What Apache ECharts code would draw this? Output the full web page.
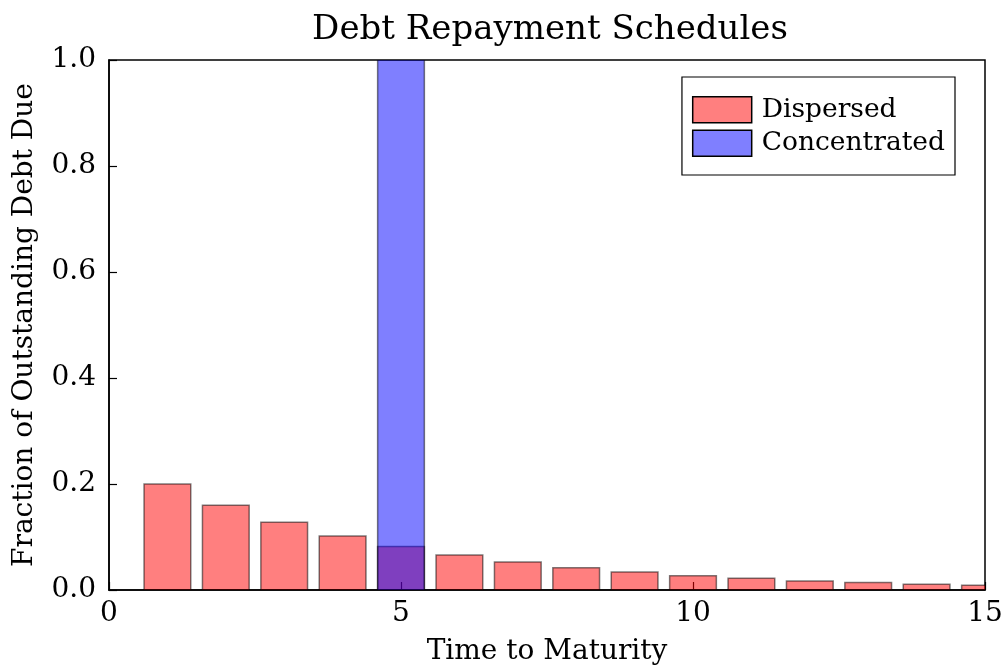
<!DOCTYPE html>
<html>
<head>
<meta charset="utf-8">
<script src="https://cdn.jsdelivr.net/npm/echarts@6/dist/echarts.min.js"></script>
<style>html,body{margin:0;padding:0;background:#fff}#c{width:1001px;height:666px}</style>
</head>
<body>
<div id="c"></div>
<script>
const maturities = [1,2,3,4,5,6,7,8,9,10,11,12,13,14,15];
const dispersed = [0.200,0.160,0.128,0.102,0.082,0.066,0.053,0.042,0.034,0.027,0.022,0.017,0.014,0.011,0.009];
const concentrated = [0,0,0,0,1.0,0,0,0,0,0,0,0,0,0,0];
const xTicks = [0,5,10,15];
const yTicks = [0,0.2,0.4,0.6,0.8,1.0];

const FONT = 'DejaVu Serif';
const HALF = 0.4;
const chart = echarts.init(document.getElementById('c'), null, {renderer:'canvas'});
const pair = (ys) => maturities.map((x,i)=>[x, ys[i]]);
function barItem(fill){
  return function(params, api){
    const x = api.value(0), y = api.value(1);
    const p0 = api.coord([x - HALF, 0]);
    const p1 = api.coord([x + HALF, y]);
    return {type:'rect',
      shape:{x:p0[0], y:p1[1], width:p1[0]-p0[0], height:p0[1]-p1[1]},
      style:{fill:fill, stroke:'rgba(0,0,0,0.5)', lineWidth:1.5}};
  };
}
chart.setOption({
  animation:false,
  backgroundColor:'#fff',
  title:{text:'Debt Repayment Schedules', left:545, textAlign:'center', top:8,
    textStyle:{fontFamily:FONT, fontSize:34, fontWeight:'normal', color:'#000'}},
  grid:{left:109, right:16, top:60, bottom:76, show:true, borderColor:'#000', borderWidth:1.5,
    backgroundColor:'transparent', outerBoundsMode:'none', containLabel:false},
  legend:{orient:'vertical', right:46, top:77, padding:[19,10,18,10], itemGap:6,
    itemWidth:59, itemHeight:26, backgroundColor:'#fff', borderColor:'#000', borderWidth:1.2, borderRadius:0,
    icon:'rect',
    itemStyle:{borderColor:'#000', borderWidth:1.5},
    textStyle:{fontFamily:FONT, fontSize:26.5, color:'#000', padding:[0,0,0,5]},
    data:['Dispersed','Concentrated']},
  xAxis:{type:'value', min:0, max:15, interval:5,
    name:'Time to Maturity', nameLocation:'middle', nameGap:48,
    nameTextStyle:{fontFamily:FONT, fontSize:28, color:'#000'},
    axisLine:{show:true, onZero:false, lineStyle:{color:'#000', width:1.5}},
    axisTick:{show:true, inside:true, length:8, lineStyle:{color:'#000', width:1.2}},
    axisLabel:{fontFamily:FONT, fontSize:28, color:'#000', margin:10},
    splitLine:{show:false}},
  yAxis:{type:'value', min:0, max:1, interval:0.2,
    name:'Fraction of Outstanding Debt Due', nameLocation:'middle', nameGap:70,
    nameTextStyle:{fontFamily:FONT, fontSize:28, color:'#000'},
    axisLine:{show:true, onZero:false, lineStyle:{color:'#000', width:1.5}},
    axisTick:{show:true, inside:true, length:8, lineStyle:{color:'#000', width:1.2}},
    axisLabel:{fontFamily:FONT, fontSize:28, color:'#000', margin:13,
      formatter:(v)=>v.toFixed(1)},
    splitLine:{show:false}},
  series:[
    {name:'Dispersed', type:'custom', data:pair(dispersed), clip:true, encode:{x:0,y:1},
      renderItem:barItem('rgba(255,0,0,0.5)'),
      itemStyle:{color:'rgba(255,0,0,0.5)'}},
    {name:'Concentrated', type:'custom', data:pair(concentrated), clip:true, encode:{x:0,y:1},
      renderItem:barItem('rgba(0,0,255,0.5)'),
      itemStyle:{color:'rgba(0,0,255,0.5)'}}
  ]
});
</script>
</body>
</html>
